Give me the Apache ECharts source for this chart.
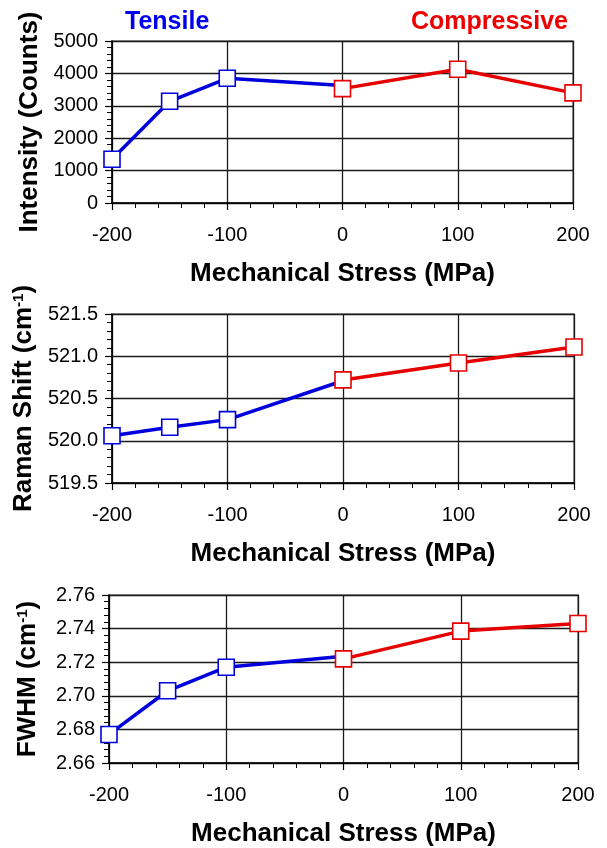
<!DOCTYPE html>
<html>
<head>
<meta charset="utf-8">
<script src="https://cdn.jsdelivr.net/npm/echarts@6/dist/echarts.min.js"></script>
<style>
  html, body { margin: 0; padding: 0; background: #fff; }
  #chart { width: 607px; height: 848px; }
</style>
</head>
<body>
<div id="chart"></div>
<script>
// Stress levels (MPa): tensile side and compressive side share the 0 point
const tensileStress = [-200, -150, -100, 0];
const compressiveStress = [0, 100, 200];

// Peak intensity (counts)
const intensityTensile = [1350, 3140, 3850, 3630];
const intensityCompressive = [3530, 4130, 3400];

// Raman shift (cm-1)
const shiftTensile = [520.06, 520.16, 520.25, 520.71];
const shiftCompressive = [520.72, 520.92, 521.11];

// Peak width, FWHM (cm-1)
const fwhmTensile = [2.677, 2.703, 2.717, 2.7235];
const fwhmCompressive = [2.722, 2.7385, 2.743];

const FONT = '"Liberation Sans", Arial, Helvetica, sans-serif';
const BLUE = '#0000dd';
const RED = '#e60000';

// The tensile line runs into the shared 0 MPa point, whose marker belongs to the compressive series
function pairs(xs, ys, hideLastMarker) {
  return xs.map((x, i) => {
    if (hideLastMarker && i === xs.length - 1) {
      return { value: [x, ys[i]], symbol: 'none' };
    }
    return [x, ys[i]];
  });
}

const grids = [
  { left: 112, top: 41, width: 461, height: 162 },
  { left: 112, top: 314, width: 462, height: 169 },
  { left: 109, top: 595, width: 469, height: 169 }
];

function xAxis(gi) {
  return {
    gridIndex: gi, type: 'value', min: -200, max: 200, interval: 100,
    name: 'Mechanical Stress (MPa)', nameLocation: 'middle', nameGap: 58,
    nameTextStyle: { fontFamily: FONT, fontWeight: 'bold', fontSize: 26, color: '#000' },
    axisLine: { show: true, onZero: false, lineStyle: { color: '#000', width: 1.5 } },
    axisTick: { show: true, length: 7, lineStyle: { color: '#000', width: 1.2 } },
    minorTick: { show: true, splitNumber: 5, length: 5, lineStyle: { color: '#000', width: 1 } },
    axisLabel: { fontFamily: FONT, fontSize: 20, color: '#000', margin: 22 },
    splitLine: { show: true, lineStyle: { color: '#1a1a1a', width: 1.3 } }
  };
}

function yAxis(gi, min, max, interval, decimals, name) {
  return {
    gridIndex: gi, type: 'value', min: min, max: max, interval: interval,
    name: name, nameLocation: 'middle', nameRotate: 90, nameGap: 68,
    nameTextStyle: {
      fontFamily: FONT, fontWeight: 'bold', fontSize: 26, color: '#000',
      rich: {
        b: { fontFamily: FONT, fontWeight: 'bold', fontSize: 26, color: '#000' },
        sup: { fontFamily: FONT, fontWeight: 'bold', fontSize: 15, color: '#000', verticalAlign: 'top' }
      }
    },
    axisLine: { show: true, onZero: false, lineStyle: { color: '#000', width: 1.5 } },
    axisTick: { show: true, length: 7, lineStyle: { color: '#000', width: 1.2 } },
    minorTick: { show: true, splitNumber: 5, length: 5, lineStyle: { color: '#000', width: 1 } },
    axisLabel: {
      fontFamily: FONT, fontSize: 20, color: '#000', margin: 14,
      formatter: v => v.toFixed(decimals)
    },
    splitLine: { show: true, lineStyle: { color: '#1a1a1a', width: 1.3 } }
  };
}

function lineSeries(gi, xs, ys, color, hideLastMarker) {
  return {
    type: 'line', xAxisIndex: gi, yAxisIndex: gi,
    data: pairs(xs, ys, hideLastMarker),
    symbol: 'rect', symbolSize: 16,
    lineStyle: { color: color, width: 3.5 },
    itemStyle: { color: '#fff', borderColor: color, borderWidth: 1.6 },
    emphasis: { disabled: true },
    animation: false, z: 3
  };
}

const chart = echarts.init(document.getElementById('chart'), null, { renderer: 'canvas' });
chart.setOption({
  backgroundColor: '#fff',
  animation: false,
  title: [
    { text: 'Tensile', left: 120, top: 5, textStyle: { fontFamily: FONT, fontWeight: 'bold', fontSize: 25, color: '#0000ee' } },
    { text: 'Compressive', right: 34, top: 5, textStyle: { fontFamily: FONT, fontWeight: 'bold', fontSize: 25, color: '#ee0000' } }
  ],
  grid: grids.map(g => Object.assign({ show: true, borderColor: '#999', borderWidth: 2, backgroundColor: 'transparent' }, g)),
  xAxis: [xAxis(0), xAxis(1), xAxis(2)],
  yAxis: [
    yAxis(0, 0, 5000, 1000, 0, 'Intensity (Counts)'),
    yAxis(1, 519.5, 521.5, 0.5, 1, '{b|Raman Shift (cm}{sup|-1}{b|)}'),
    yAxis(2, 2.66, 2.76, 0.02, 2, '{b|FWHM (cm}{sup|-1}{b|)}')
  ],
  series: [
    lineSeries(0, tensileStress, intensityTensile, BLUE, true),
    lineSeries(0, compressiveStress, intensityCompressive, RED, false),
    lineSeries(1, tensileStress, shiftTensile, BLUE, true),
    lineSeries(1, compressiveStress, shiftCompressive, RED, false),
    lineSeries(2, tensileStress, fwhmTensile, BLUE, true),
    lineSeries(2, compressiveStress, fwhmCompressive, RED, false)
  ]
});
</script>
</body>
</html>
